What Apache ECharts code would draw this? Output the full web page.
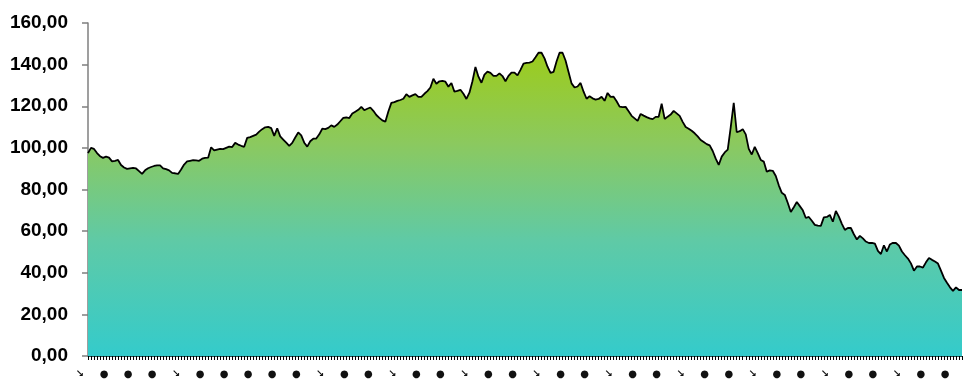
<!DOCTYPE html>
<html>
<head>
<meta charset="utf-8">
<script src="https://cdn.jsdelivr.net/npm/echarts@6/dist/echarts.min.js"></script>
<style>
  html, body { margin: 0; padding: 0; background: #ffffff; }
  #chart { width: 964px; height: 384px; }
</style>
</head>
<body>
<div id="chart"></div>
<script>
// Weekly index values
const values = [
  97.5, 100, 99.5, 97.5, 96, 95.2, 95.8, 95.3, 93.5, 93.8,
  94.2, 91.8, 90.6, 89.9, 90.2, 90.4, 90.1, 88.8, 87.5, 89.2,
  90.2, 90.8, 91.3, 91.6, 91.6, 90.2, 89.8, 89.2, 88, 87.8,
  87.5, 89.6, 92, 93.5, 93.8, 94.1, 94, 93.8, 94.8, 95.2,
  95.3, 100.3, 98.8, 99.2, 99.5, 99.4, 100, 100.6, 100.4, 102.4,
  101.6, 101, 100.5, 104.8, 105.2, 105.8, 106.4, 107.8, 109, 109.9,
  110.1, 109.5, 105.8, 109.4, 105.5, 104, 102.5, 101, 102.4, 105,
  107.4, 106, 102.5, 100.6, 103.2, 104.4, 104.5, 106.5, 109.2, 109,
  109.6, 110.8, 110.1, 111.2, 112.8, 114.4, 114.6, 114.3, 116.5, 117.4,
  118.3, 119.7, 118.1, 118.8, 119.4, 117.8, 115.8, 114.4, 113.2, 112.6,
  117.5, 121.6, 122, 122.6, 123, 123.6, 125.8, 124.5, 125.2, 125.8,
  124.5, 124.5, 126, 127.3, 129, 133.2, 130.8, 132, 132.2, 131.8,
  129.4, 131.2, 127, 127.4, 127.9, 126, 123.5, 126.5, 132, 138.9,
  134.2, 131.3, 135.2, 136.6, 136, 134.6, 134.6, 135.8, 134.5, 132,
  134.6, 136.2, 136.2, 134.8, 137.5, 140.5, 140.8, 141, 141.5, 143.5,
  145.7, 145.7, 143, 139, 136, 136.5, 141.5, 145.7, 145.7, 142,
  136.5, 131, 129, 129.5, 131.2, 127, 123.6, 124.8, 123.8, 123.2,
  123.5, 124.6, 122.6, 126.4, 124.5, 124.6, 122.4, 119.8, 119.6, 119.7,
  117.6, 115.4, 114.2, 113, 116.3, 115.5, 114.8, 114.2, 113.8, 114.9,
  114.9, 121.2, 113.9, 115, 116, 117.8, 116.6, 115.4, 112.5, 110,
  109.2, 108.2, 107, 105.5, 103.8, 102.8, 101.8, 101.2, 98.5, 94.8,
  91.8, 95.8, 97.8, 99.2, 110, 121.6, 107.5, 108, 109, 106.5,
  99.5, 96.8, 100.5, 97.5, 94.2, 93.4, 88.5, 89.2, 89, 86.5,
  82, 78.4, 77.4, 73.5, 69.2, 71.5, 74, 72, 70, 66.3,
  66.8, 65, 63, 62.6, 62.5, 66.6, 66.8, 67.8, 64.5, 69.7,
  67, 63.5, 60.6, 61.5, 61.5, 58.5, 56, 57.7, 56.5, 55,
  54.3, 54.4, 54, 50.5, 49, 53.2, 50.2, 53.6, 54.4, 54.3,
  53, 50.2, 48.4, 46.8, 44.5, 41, 43, 43, 42.5, 45,
  47.1, 46.2, 45.4, 44.4, 41, 37.5, 35.2, 33, 31.3, 33,
  31.7, 31.7
];

// Week index used as the category axis
const weeks = values.map((_, i) => i);

// One label every eight weeks
const tickLabels = [
  '↘', '●', '●', '●', '↘', '●', '●', '●', '●', '●',
  '↘', '●', '●', '↘', '●', '●', '↘', '●', '●', '↘',
  '●', '●', '↘', '●', '●', '↘', '●', '●', '↘', '●',
  '●', '↘', '●', '●', '↘', '●', '●'
];

// Value axis
const yMin = 0;
const yMax = 160;
const yStep = 20;

const chart = echarts.init(document.getElementById('chart'), null, { renderer: 'canvas' });

chart.setOption({
  animation: false,
  backgroundColor: '#ffffff',
  grid: { left: 88, right: 2, top: 23, bottom: 28, containLabel: false },
  xAxis: {
    type: 'category',
    data: weeks,
    boundaryGap: false,
    axisLine: { show: true, lineStyle: { color: '#2b4f4f', width: 1 } },
    axisTick: {
      show: true,
      interval: 0,
      length: 4,
      lineStyle: { color: '#000000', width: 1 }
    },
    axisLabel: {
      show: true,
      interval: 7,
      margin: 13,
      fontFamily: 'DejaVu Sans, sans-serif',
      fontSize: 10,
      fontWeight: 'bold',
      color: '#111111',
      align: 'center',
      padding: [0, 16, 0, 0],
      formatter: function (v, idx) {
        return tickLabels[Math.round(idx / 8)] || '';
      }
    },
    splitLine: { show: false }
  },
  yAxis: {
    type: 'value',
    min: yMin,
    max: yMax,
    interval: yStep,
    axisLine: { show: true, lineStyle: { color: '#7f7f7f', width: 1.5 } },
    axisTick: { show: true, length: 6, lineStyle: { color: '#7f7f7f', width: 1.5 } },
    axisLabel: {
      margin: 20,
      fontFamily: 'Liberation Sans, Arial, sans-serif',
      fontSize: 19,
      fontWeight: 'bold',
      color: '#000000',
      formatter: function (v) { return v.toFixed(2).replace('.', ','); }
    },
    splitLine: { show: false }
  },
  series: [{
    type: 'line',
    data: values,
    symbol: 'none',
    smooth: false,
    lineStyle: { color: '#000000', width: 1.8 },
    areaStyle: {
      opacity: 1,
      color: new echarts.graphic.LinearGradient(0, 0, 0, 1, [
        { offset: 0, color: '#9ccc1c' },
        { offset: 0.3, color: '#8bc95f' },
        { offset: 0.62, color: '#5fcaa6' },
        { offset: 1, color: '#34cbcb' }
      ])
    }
  }]
});
</script>
</body>
</html>
